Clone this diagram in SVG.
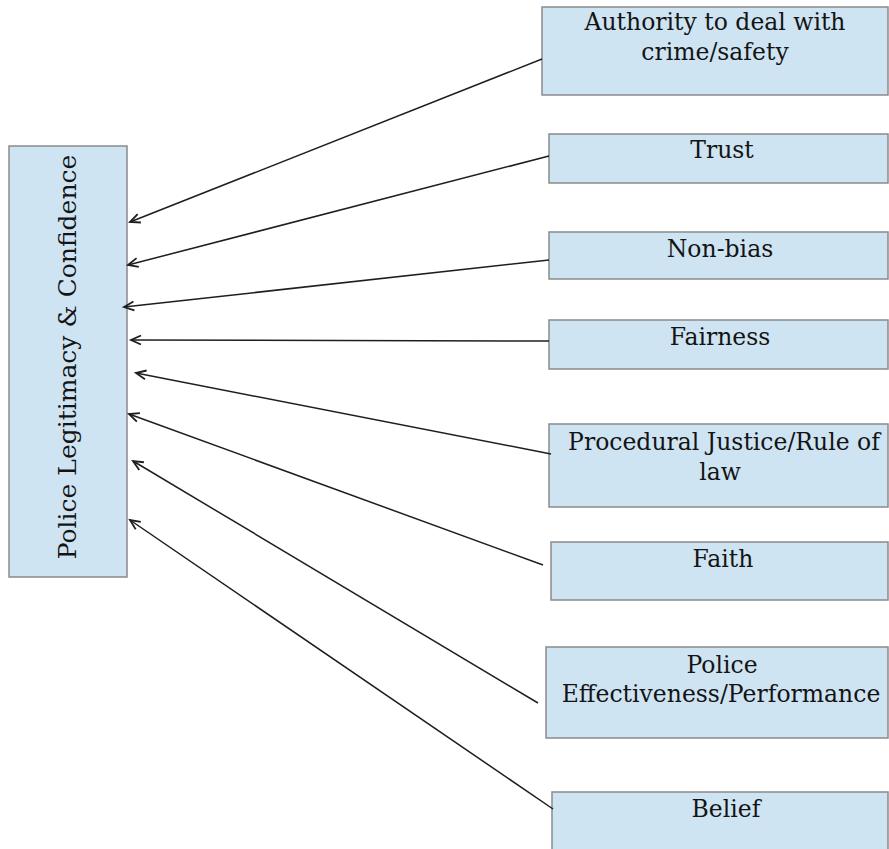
<svg xmlns="http://www.w3.org/2000/svg" width="889" height="849" viewBox="0 0 889 849">
  <defs>
    <style>
      .box { fill: #cfe4f3; stroke: #8a8a8a; stroke-width: 1.5; }
      .lbl { font-family: "DejaVu Serif", "Liberation Serif", serif; font-size: 23.5px; fill: #141414; text-anchor: middle; }
      .main { font-family: "DejaVu Serif", "Liberation Serif", serif; font-size: 25px; fill: #141414; text-anchor: middle; }
      .edge { stroke: #1e1e1e; stroke-width: 1.5; fill: none; marker-end: url(#arrow); }
    </style>
    <marker id="arrow" markerUnits="userSpaceOnUse" markerWidth="14" markerHeight="12" viewBox="0 -6 14 12" refX="11" refY="0" orient="auto">
      <path d="M1,-4.5 L11,0 L1,4.5" fill="none" stroke="#1e1e1e" stroke-width="1.8"/>
    </marker>
  </defs>

  <rect width="889" height="849" fill="#ffffff"/>

  <!-- central construct -->
  <g id="legitimacy">
    <rect class="box" x="9" y="146" width="118" height="431"/>
    <text class="main" transform="translate(76,357) rotate(-90)">Police Legitimacy &amp; Confidence</text>
  </g>

  <!-- contributing factors -->
  <g id="authority">
    <rect class="box" x="542" y="7" width="346" height="88"/>
    <text class="lbl" x="715" y="30">Authority to deal with</text>
    <text class="lbl" x="715" y="60">crime/safety</text>
  </g>
  <g id="trust">
    <rect class="box" x="549" y="134" width="339" height="49"/>
    <text class="lbl" x="722" y="158">Trust</text>
  </g>
  <g id="nonbias">
    <rect class="box" x="549" y="232" width="339" height="47"/>
    <text class="lbl" x="720" y="257">Non-bias</text>
  </g>
  <g id="fairness">
    <rect class="box" x="549" y="320" width="339" height="49"/>
    <text class="lbl" x="720" y="345">Fairness</text>
  </g>
  <g id="procedural">
    <rect class="box" x="549" y="424" width="339" height="83"/>
    <text class="lbl" x="724" y="450">Procedural Justice/Rule of</text>
    <text class="lbl" x="720" y="480">law</text>
  </g>
  <g id="faith">
    <rect class="box" x="551" y="542" width="337" height="58"/>
    <text class="lbl" x="723" y="567">Faith</text>
  </g>
  <g id="effectiveness">
    <rect class="box" x="546" y="647" width="342" height="91"/>
    <text class="lbl" x="722" y="673">Police</text>
    <text class="lbl" x="721" y="702">Effectiveness/Performance</text>
  </g>
  <g id="belief">
    <rect class="box" x="552" y="792" width="336" height="62"/>
    <text class="lbl" x="726" y="817">Belief</text>
  </g>

  <!-- arrows into the central construct -->
  <g id="connectors">
    <line class="edge" x1="542" y1="59" x2="130" y2="222"/>
    <line class="edge" x1="549" y1="156" x2="128" y2="265"/>
    <line class="edge" x1="549" y1="260" x2="124" y2="307"/>
    <line class="edge" x1="549" y1="341" x2="131" y2="340"/>
    <line class="edge" x1="551" y1="454" x2="136" y2="373"/>
    <line class="edge" x1="543" y1="565" x2="129" y2="414"/>
    <line class="edge" x1="538" y1="703" x2="133" y2="461"/>
    <line class="edge" x1="553" y1="809" x2="130" y2="520"/>
  </g>
</svg>
